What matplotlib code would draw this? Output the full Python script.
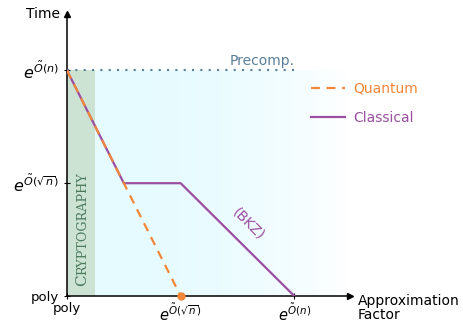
import matplotlib.pyplot as plt
import numpy as np

# levels on both axes: poly, e^O(sqrt n), e^O(n)
levels = [0, 1, 2]
x_ticklabels = ["poly", r"$e^{\tilde{O}(\sqrt{n})}$", r"$e^{\tilde{O}(n)}$"]
y_ticklabels = ["poly", r"$e^{\tilde{O}(\sqrt{n})}$", r"$e^{\tilde{O}(n)}$"]

classical_x = [0, 0.5, 1, 2]
classical_y = [2, 1, 1, 0]
quantum_x = [0, 1]
quantum_y = [2, 0]
precomp_level = 2
crypto_width = 0.25

orange = "#f2873a"
purple = "#9c4ea0"
steel = "#5a7f98"
green_txt = "#4d7b5e"

fig = plt.figure(figsize=(4.64, 3.25), dpi=100)
ax = fig.add_axes([67 / 464, 29 / 325, 283 / 464, 282 / 325])
ax.set_xlim(0, 2.49)
ax.set_ylim(0, 2.5)

# pale cyan wash fading out to the right
grad = np.linspace(0, 1, 256)
cols = np.ones((1, 256, 3))
start = np.array([0.90, 0.985, 1.0])
for i in range(3):
    cols[0, :, i] = start[i] + (1 - start[i]) * grad ** 2.5
ax.imshow(cols, extent=(0, 2.49, 0, precomp_level), aspect="auto", zorder=0)

ax.axvspan(0, crypto_width, ymin=0, ymax=precomp_level / 2.5, color="#cce3d3", zorder=1, lw=0)

ax.plot([0, 2], [precomp_level, precomp_level], ls=(0, (1, 3)), color=steel, lw=1.5, zorder=2)
ax.text(2, precomp_level + 0.02, "Precomp.", color=steel, ha="right", va="bottom", fontsize=10)

ax.plot(classical_x, classical_y, color=purple, lw=1.6, label="Classical", zorder=3)
ax.plot(quantum_x, quantum_y, color=orange, lw=1.6, ls=(0, (4, 3)), label="Quantum", zorder=4)
ax.plot(quantum_x[-1], quantum_y[-1], "o", color=orange, ms=5, zorder=5, clip_on=False)

ax.text(1.6, 0.64, "(BKZ)", color=purple, rotation=-45, ha="center", va="center", fontsize=10)

# small-caps style label in the cryptography band
ax.text(crypto_width / 2 + 0.005, 0.09, "C", family="DejaVu Serif", fontsize=11, rotation=90,
        color=green_txt, ha="center", va="bottom")
ax.text(crypto_width / 2 + 0.01, 0.19, "RYPTOGRAPHY", family="DejaVu Serif", fontsize=9.2,
        rotation=90, color=green_txt, ha="center", va="bottom")

handles, labels = ax.get_legend_handles_labels()
ax.legend(handles[::-1], labels[::-1], loc="upper left", bbox_to_anchor=(298 / 464, 1 - 69 / 325),
          bbox_transform=fig.transFigure, frameon=False, labelcolor="linecolor", fontsize=10,
          handlelength=2.5, labelspacing=1.1, handletextpad=0.6)

for s in ["top", "right"]:
    ax.spines[s].set_visible(False)
for s in ["left", "bottom"]:
    ax.spines[s].set_linewidth(1.1)
ax.plot(1, 0, ">k", ms=5, transform=ax.get_yaxis_transform(), clip_on=False)
ax.plot(0, 1, "^k", ms=5, transform=ax.get_xaxis_transform(), clip_on=False)

ax.set_xticks(levels)
ax.set_xticklabels(x_ticklabels)
ax.set_yticks(levels)
ax.set_yticklabels(y_ticklabels)
for lab in ax.get_yticklabels():
    lab.set_fontsize(9.5 if lab.get_text() == "poly" else 11.5)
for lab in ax.get_xticklabels():
    lab.set_fontsize(9.5 if lab.get_text() == "poly" else 10.5)
ax.tick_params(axis="x", direction="inout", length=5, pad=2)
ax.tick_params(axis="y", direction="inout", length=5, pad=3)

fig.text(60 / 464, 1 - 14 / 325, "Time", ha="right", va="center", fontsize=10)
fig.text(358 / 464, 1 - 308 / 325, "Approximation\nFactor", ha="left", va="center",
         fontsize=10, linespacing=1.0)

fig.savefig("out.png", dpi=100)
